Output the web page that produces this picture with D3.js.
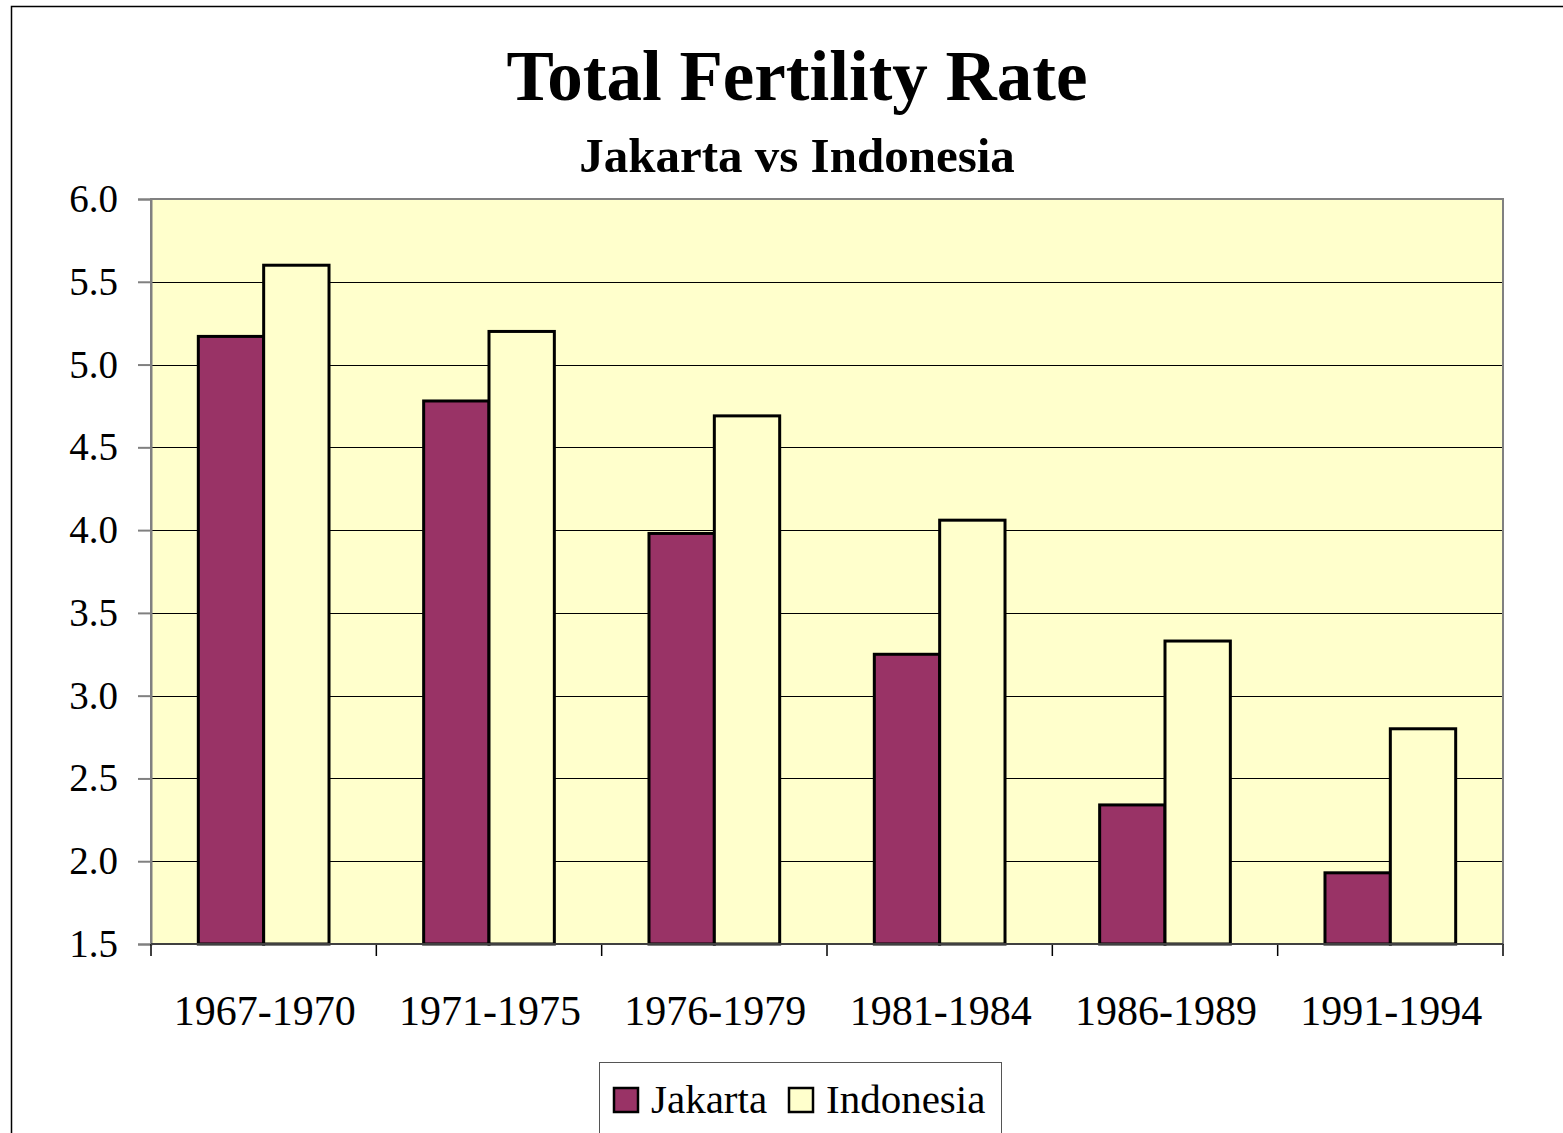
<!DOCTYPE html>
<html>
<head>
<meta charset="utf-8">
<script src="https://d3js.org/d3.v7.min.js"></script>
<style>
  body { margin: 0; background: #fff; }
  text { font-family: "Liberation Serif", "DejaVu Serif", serif; fill: #000; }
</style>
</head>
<body>
<div id="chart"></div>
<script>
// Data
var periods = ["1967-1970", "1971-1975", "1976-1979", "1981-1984", "1986-1989", "1991-1994"];
var seriesNames = ["Jakarta", "Indonesia"];
var jakarta = [5.17, 4.78, 3.98, 3.25, 2.34, 1.93];
var indonesia = [5.6, 5.2, 4.69, 4.06, 3.33, 2.8];
var yTicks = [1.5, 2.0, 2.5, 3.0, 3.5, 4.0, 4.5, 5.0, 5.5, 6.0];
var colors = ["#993366", "#ffffcc"];

var svgWidth = 1563;
var svgHeight = 1133;

var margin = { top: 199, right: 60, bottom: 189, left: 151 };
var width = 1503 - margin.left;
var height = 944 - margin.top;

var svg = d3.select("#chart")
    .append("svg")
    .attr("width", svgWidth)
    .attr("height", svgHeight);

// outer frame
svg.append("rect")
    .attr("x", 11.5).attr("y", 6.5)
    .attr("width", 1570).attr("height", 1140)
    .attr("fill", "none").attr("stroke", "#000").attr("stroke-width", 1.5);

// titles
svg.append("text")
    .attr("x", 797).attr("y", 100)
    .attr("text-anchor", "middle")
    .style("font-size", "71px").style("font-weight", "bold")
    .text("Total Fertility Rate");

svg.append("text")
    .attr("x", 797).attr("y", 172)
    .attr("text-anchor", "middle")
    .style("font-size", "49px").style("font-weight", "bold")
    .text("Jakarta vs Indonesia");

var chartGroup = svg.append("g")
    .attr("transform", `translate(${margin.left}, ${margin.top})`);

var x0 = d3.scaleBand()
    .domain(periods)
    .range([0, width])
    .paddingInner(0.42)
    .paddingOuter(0.21);

var x1 = d3.scaleBand()
    .domain(seriesNames)
    .range([0, x0.bandwidth()]);

var yScale = d3.scaleLinear()
    .domain([1.5, 6.0])
    .range([height, 0]);

// plot background
chartGroup.append("rect")
    .attr("width", width).attr("height", height)
    .attr("fill", "#ffffcc");

// gridlines
chartGroup.append("g")
    .selectAll("line")
    .data(yTicks.slice(1, -1))
    .enter()
    .append("line")
    .attr("x1", 0).attr("x2", width)
    .attr("y1", d => Math.round(yScale(d)) + 0.5)
    .attr("y2", d => Math.round(yScale(d)) + 0.5)
    .attr("stroke", "#000").attr("stroke-width", 1);

// bars
var rows = periods.map((p, i) => ({ period: p, values: [jakarta[i], indonesia[i]] }));

var groups = chartGroup.selectAll(".grp")
    .data(rows)
    .enter()
    .append("g")
    .attr("transform", d => `translate(${x0(d.period)}, 0)`);

groups.selectAll("rect")
    .data(d => d.values.map((v, j) => ({ name: seriesNames[j], value: v, j: j })))
    .enter()
    .append("rect")
    .attr("x", d => x1(d.name))
    .attr("y", d => yScale(d.value))
    .attr("width", x1.bandwidth())
    .attr("height", d => height - yScale(d.value))
    .attr("fill", d => colors[d.j])
    .attr("stroke", "#000")
    .attr("stroke-width", 3);

// plot border (gray)
chartGroup.append("rect")
    .attr("width", width).attr("height", height)
    .attr("fill", "none").attr("stroke", "#808080").attr("stroke-width", 2);

// y axis
var leftAxis = d3.axisLeft(yScale)
    .tickValues(yTicks)
    .tickFormat(d3.format(".1f"))
    .tickSize(13)
    .tickPadding(20);

var yAxis = chartGroup.append("g").call(leftAxis);
yAxis.select(".domain").attr("stroke", "#808080").attr("stroke-width", 2);
yAxis.selectAll(".tick line").attr("stroke", "#808080").attr("stroke-width", 2);
yAxis.selectAll(".tick text")
    .style("font-size", "39px")
    .style("font-family", "Liberation Serif");

// x axis: ticks at category boundaries
var xBoundaries = d3.range(periods.length + 1).map(i => i * width / periods.length);
chartGroup.append("g")
    .selectAll("line")
    .data(xBoundaries)
    .enter()
    .append("line")
    .attr("x1", d => d).attr("x2", d => d)
    .attr("y1", height).attr("y2", height + 12)
    .attr("stroke", "#000").attr("stroke-width", 1.5);

chartGroup.append("line")
    .attr("x1", 0).attr("x2", width)
    .attr("y1", height).attr("y2", height)
    .attr("stroke", "#404040").attr("stroke-width", 2);

chartGroup.append("g")
    .selectAll("text")
    .data(periods)
    .enter()
    .append("text")
    .attr("x", d => x0(d) + x0.bandwidth() / 2 + 1)
    .attr("y", height + 81)
    .attr("text-anchor", "middle")
    .style("font-size", "42px")
    .text(d => d);

// legend
var legend = svg.append("g").attr("transform", "translate(599, 1062)");
legend.append("rect")
    .attr("x", 0.5).attr("y", 0.5)
    .attr("width", 402).attr("height", 100)
    .attr("fill", "#fff").attr("stroke", "#555").attr("stroke-width", 1);

var legendX = [15, 190];
seriesNames.forEach(function(name, i) {
    legend.append("rect")
        .attr("x", legendX[i]).attr("y", 26)
        .attr("width", 24).attr("height", 24)
        .attr("fill", colors[i]).attr("stroke", "#000").attr("stroke-width", 2.5);
    legend.append("text")
        .attr("x", legendX[i] + 37).attr("y", 51)
        .style("font-size", "41px")
        .text(name);
});
</script>
</body>
</html>
